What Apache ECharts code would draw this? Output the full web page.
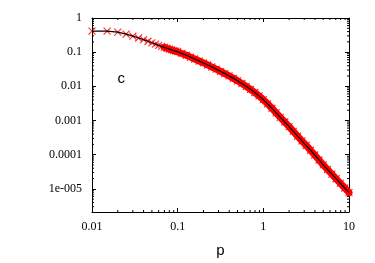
<!DOCTYPE html>
<html>
<head>
<meta charset="utf-8">
<script src="https://cdn.jsdelivr.net/npm/echarts@6/dist/echarts.min.js"></script>
<style>
html,body{margin:0;padding:0;background:#fff;}
#chart{width:375px;height:263px;}
</style>
</head>
<body>
<div id="chart"></div>
<script>
// ---- data ----
var pValues = [0.01, 0.015, 0.02, 0.025, 0.03, 0.035, 0.04, 0.045, 0.05, 0.055, 0.06, 0.065, 0.07, 0.075, 0.08, 0.085, 0.09, 0.095, 0.1,
  0.112, 0.126, 0.141, 0.158, 0.178, 0.2, 0.224, 0.251, 0.282, 0.316, 0.355, 0.398, 0.447, 0.501, 0.562, 0.631, 0.708, 0.794, 0.891,
  1, 1.12, 1.26, 1.41, 1.58, 1.78, 2, 2.24, 2.51, 2.82, 3.16, 3.55, 3.98, 4.47, 5.01, 5.62, 6.31, 7.08, 7.94, 8.91, 10];
var cValues = [0.412, 0.412, 0.385, 0.339, 0.295, 0.26, 0.232, 0.209, 0.188, 0.172, 0.158, 0.148, 0.138, 0.13, 0.123, 0.117, 0.111, 0.107, 0.1035,
  0.0918, 0.0813, 0.0716, 0.0631, 0.0553, 0.0484, 0.0422, 0.0367, 0.0318, 0.0275, 0.0236, 0.0202, 0.0171, 0.01445, 0.01208, 0.01, 0.00817, 0.00661, 0.00525,
  0.00407, 0.00308, 0.00229, 0.00168, 0.00123, 0.000902, 0.000661, 0.000479, 0.000347, 0.000254, 0.000186, 0.000135, 0.0000977, 0.00007, 0.0000501, 0.0000367, 0.0000269, 0.0000197, 0.0000145, 0.0000106, 0.00000776];

var xTickValues = [0.01, 0.1, 1, 10];
var xTickLabels = ['0.01', '0.1', '1', '10'];
var yTickValues = [0.00001, 0.0001, 0.001, 0.01, 0.1, 1];
var yTickLabels = ['1e-005', '0.0001', '0.001', '0.01', '0.1', '1'];
var xMinorTicks = [0.02,0.03,0.04,0.05,0.06,0.07,0.08,0.09,0.2,0.3,0.4,0.5,0.6,0.7,0.8,0.9,2,3,4,5,6,7,8,9];
var yMinorTicks = [3e-6,4e-6,5e-6,6e-6,7e-6,8e-6,9e-6,2e-5,3e-5,4e-5,5e-5,6e-5,7e-5,8e-5,9e-5,
  2e-4,3e-4,4e-4,5e-4,6e-4,7e-4,8e-4,9e-4,0.002,0.003,0.004,0.005,0.006,0.007,0.008,0.009,
  0.02,0.03,0.04,0.05,0.06,0.07,0.08,0.09,0.2,0.3,0.4,0.5,0.6,0.7,0.8,0.9];
var xMin = 0.01, xMax = 10, yMin = 2.1e-6, yMax = 1;

var points = pValues.map(function(p, i){ return [p, cValues[i]]; });
var densePoints = points.filter(function(d){ return d[0] >= 0.07; });

function makeFmt(vals, labs){
  return function(v){
    for (var i = 0; i < vals.length; i++) {
      if (Math.abs(Math.log10(v) - Math.log10(vals[i])) < 1e-6) return labs[i];
    }
    return '';
  };
}

var serif = '"Liberation Serif", "Times New Roman", serif';
var sans = '"Liberation Sans", Arial, sans-serif';
var tickStyle = {show: true, inside: true, length: 4, lineStyle: {color: '#000', width: 1}};
var lineStyle = {show: true, lineStyle: {color: '#000', width: 1}};

var chart = echarts.init(document.getElementById('chart'), null, {renderer: 'canvas'});
chart.setOption({
  animation: false,
  backgroundColor: '#fff',
  grid: {left: 92, right: 26, top: 18, bottom: 48, containLabel: false},
  xAxis: [
    {type: 'log', logBase: 10, min: xMin, max: xMax, position: 'bottom',
     axisLine: lineStyle, axisTick: tickStyle, splitLine: {show: false},
     axisLabel: {formatter: makeFmt(xTickValues, xTickLabels), fontFamily: serif, fontSize: 12, color: '#000', margin: 9, showMinLabel: true, showMaxLabel: true},
     name: 'p', nameLocation: 'middle', nameGap: 31,
     nameTextStyle: {fontFamily: sans, fontSize: 15, color: '#000'}},
    {type: 'log', logBase: 10, min: xMin, max: xMax, position: 'top',
     axisLine: lineStyle, axisTick: tickStyle, splitLine: {show: false}, axisLabel: {show: false}}
  ],
  yAxis: [
    {type: 'log', logBase: 10, min: yMin, max: yMax, position: 'left',
     axisLine: lineStyle, axisTick: tickStyle, splitLine: {show: false},
     axisLabel: {formatter: makeFmt(yTickValues, yTickLabels), fontFamily: serif, fontSize: 12, color: '#000', margin: 10, showMinLabel: true, showMaxLabel: true}},
    {type: 'log', logBase: 10, min: yMin, max: yMax, position: 'right',
     axisLine: lineStyle, axisTick: tickStyle, splitLine: {show: false}, axisLabel: {show: false}}
  ],
  graphic: [
    {type: 'text', x: 117.5, y: 79, silent: true,
     style: {text: 'c', font: '15px ' + sans, fill: '#000', align: 'left', verticalAlign: 'middle'}}
  ],
  series: [
    {type: 'custom', name: 'xminor', clip: false, silent: true, z: 3,
     data: xMinorTicks.map(function(v){ return [v]; }),
     renderItem: function(params, api){
       var v = api.value(0);
       var b = api.coord([v, yMin]);
       var t = api.coord([v, yMax]);
       var st = {stroke: '#000', lineWidth: 1};
       return {type: 'group', children: [
         {type: 'line', shape: {x1: b[0], y1: b[1], x2: b[0], y2: b[1] - 2}, style: st},
         {type: 'line', shape: {x1: t[0], y1: t[1], x2: t[0], y2: t[1] + 2}, style: st}
       ]};
     }},
    {type: 'custom', name: 'yminor', clip: false, silent: true, z: 3,
     data: yMinorTicks.map(function(v){ return [xMin, v]; }),
     renderItem: function(params, api){
       var v = api.value(1);
       var l = api.coord([xMin, v]);
       var r = api.coord([xMax, v]);
       var st = {stroke: '#000', lineWidth: 1};
       return {type: 'group', children: [
         {type: 'line', shape: {x1: l[0], y1: l[1], x2: l[0] + 2, y2: l[1]}, style: st},
         {type: 'line', shape: {x1: r[0], y1: r[1], x2: r[0] - 2, y2: r[1]}, style: st}
       ]};
     }},
    {type: 'line', name: 'band', data: densePoints, showSymbol: false, symbol: 'none',
     lineStyle: {color: '#ff0000', width: 7, cap: 'round'}, z: 4, silent: true},
    {type: 'scatter', name: 'sim', data: points,
     symbol: 'path://M0,0L10,10M10,0L0,10', symbolSize: 7,
     itemStyle: {color: 'rgba(0,0,0,0)', borderColor: '#ff0000', borderWidth: 1.2}, z: 5, silent: true},
    {type: 'line', name: 'theory', data: points, showSymbol: false, symbol: 'none',
     lineStyle: {color: '#000', width: 1.2}, z: 6, silent: true}
  ]
});
</script>
</body>
</html>
